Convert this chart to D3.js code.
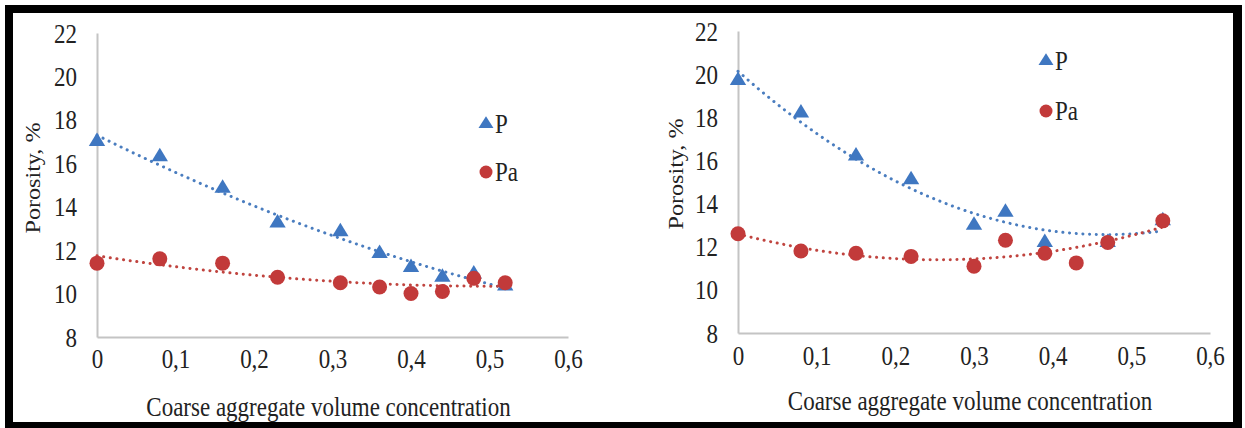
<!DOCTYPE html>
<html>
<head>
<meta charset="utf-8">
<script src="https://cdn.jsdelivr.net/npm/d3@7"></script>
<style>
html,body{margin:0;padding:0;background:#fff;}
svg{display:block;}
text{font-family:"Liberation Serif","Times New Roman",serif;fill:#222;}
</style>
</head>
<body>
<svg id="chart" width="1245" height="428"></svg>
<script>
// ---------- data ----------
const xTickValues = [0, 0.1, 0.2, 0.3, 0.4, 0.5, 0.6];
const xTickLabels = ["0", "0,1", "0,2", "0,3", "0,4", "0,5", "0,6"];
const yTickValues = [8, 10, 12, 14, 16, 18, 20, 22];
const yTickLabels = ["8", "10", "12", "14", "16", "18", "20", "22"];
const seriesNames = ["P", "Pa"];
const xTitle = "Coarse aggregate volume concentration";
const yTitle = "Porosity, %";

// left panel
const leftXP  = [0, 0.08, 0.16, 0.23, 0.31, 0.36, 0.40, 0.44, 0.48, 0.52];
const leftP   = [17.0, 16.3, 14.85, 13.25, 12.85, 11.85, 11.2, 10.75, 10.9, 10.35];
const leftXPa = [0, 0.08, 0.16, 0.23, 0.31, 0.36, 0.40, 0.44, 0.48, 0.52];
const leftPa  = [11.4, 11.6, 11.4, 10.75, 10.5, 10.3, 10.0, 10.1, 10.7, 10.5];

// right panel
const rightXP  = [0, 0.08, 0.15, 0.22, 0.30, 0.34, 0.39, 0.47, 0.54];
const rightP   = [19.7, 18.2, 16.2, 15.1, 13.0, 13.6, 12.2, 12.2, 13.2];
const rightXPa = [0, 0.08, 0.15, 0.22, 0.30, 0.34, 0.39, 0.43, 0.47, 0.54];
const rightPa  = [12.6, 11.8, 11.7, 11.55, 11.1, 12.3, 11.7, 11.25, 12.2, 13.2];

// ---------- style ----------
const blue = "#3f77c1", red = "#c23a3a";
const blueLine = "#4a7dbf", redLine = "#c0443f";
const axisColor = "#c4c4c4";
const FONT = '"Liberation Serif", "Times New Roman", serif';
const SY = 1.15; // vertical stretch of glyphs seen in the picture

const svg = d3.select("#chart");

// frame
svg.append("rect").attr("x", 5).attr("y", 5).attr("width", 1237).attr("height", 423).attr("fill", "#000");
svg.append("rect").attr("x", 13).attr("y", 13).attr("width", 1220).attr("height", 409).attr("fill", "#fff");

// quadratic least squares fit (Excel polynomial trendline, order 2)
function quadFit(xs, ys) {
  let s = [0,0,0,0,0], t = [0,0,0];
  xs.forEach((x, i) => {
    const y = ys[i];
    for (let k = 0; k < 5; k++) s[k] += Math.pow(x, k);
    for (let k = 0; k < 3; k++) t[k] += Math.pow(x, k) * y;
  });
  const A = [[s[0], s[1], s[2], t[0]], [s[1], s[2], s[3], t[1]], [s[2], s[3], s[4], t[2]]];
  for (let c = 0; c < 3; c++) {
    let p = c;
    for (let r = c + 1; r < 3; r++) if (Math.abs(A[r][c]) > Math.abs(A[p][c])) p = r;
    [A[c], A[p]] = [A[p], A[c]];
    for (let r = 0; r < 3; r++) if (r !== c) {
      const f = A[r][c] / A[c][c];
      for (let k = c; k < 4; k++) A[r][k] -= f * A[c][k];
    }
  }
  const a = A[0][3] / A[0][0], b = A[1][3] / A[1][1], cc = A[2][3] / A[2][2];
  return x => a + b * x + cc * x * x;
}

function panel(cfg) {
  const g = svg.append("g");
  const x = d3.scaleLinear().domain([0, 0.6]).range([cfg.x0, cfg.x1]);
  const y = d3.scaleLinear().domain([8, 22]).range([cfg.y0, cfg.y1]);

  const yAxis = d3.axisLeft(y).tickValues(yTickValues).tickSize(0).tickPadding(20)
    .tickFormat((d, i) => yTickLabels[i]);
  const ya = g.append("g").attr("transform", `translate(${cfg.x0},0)`).call(yAxis);
  ya.attr("font-family", null);
  ya.select(".domain").attr("stroke", axisColor).attr("stroke-width", 2);
  ya.selectAll("text").attr("font-size", 23).attr("fill", "#222").style("font-family", FONT)
    .attr("dy", null).attr("dominant-baseline", "central")
    .attr("transform", function() {
      const xx = +d3.select(this).attr("x");
      d3.select(this).attr("x", 0);
      return `translate(${xx},0) scale(1,${SY})`;
    });

  const xAxis = d3.axisBottom(x).tickValues(xTickValues).tickSize(0).tickPadding(0)
    .tickFormat((d, i) => xTickLabels[i]);
  const xa = g.append("g").attr("transform", `translate(0,${cfg.y0})`).call(xAxis);
  xa.attr("font-family", null);
  xa.select(".domain").attr("stroke", axisColor).attr("stroke-width", 2);
  xa.selectAll("text").attr("font-size", 23).attr("fill", "#222").style("font-family", FONT)
    .attr("y", 0).attr("dy", null).attr("dominant-baseline", "central")
    .attr("transform", `translate(0,${cfg.xLabY - cfg.y0}) scale(1,${SY})`);

  // titles
  g.append("text").text(xTitle).attr("text-anchor", "middle").attr("dominant-baseline", "central")
    .attr("font-size", 23).style("font-family", FONT)
    .attr("transform", `translate(${(cfg.x0 + cfg.x1) / 2 - 4},${cfg.xTitleY}) scale(1,${SY})`);
  g.append("text").text(yTitle).attr("text-anchor", "middle").attr("dominant-baseline", "central")
    .attr("font-size", 21).style("font-family", FONT)
    .attr("transform", `translate(${cfg.yTitleX},${cfg.yTitleY}) rotate(-90) scale(${SY},1)`);

  // trendlines
  const line = d3.line().x(d => x(d[0])).y(d => y(d[1]));
  [[cfg.xp, cfg.p, blueLine], [cfg.xpa, cfg.pa, redLine]].forEach(([xs, ys, col]) => {
    const f = quadFit(xs, ys);
    const xmax = d3.max(xs);
    const pts = d3.range(0, 101).map(i => { const xv = xmax * i / 100; return [xv, f(xv)]; });
    g.append("path").attr("d", line(pts)).attr("fill", "none").attr("stroke", col)
      .attr("stroke-width", 3).attr("stroke-linecap", "round").attr("stroke-dasharray", "0.1 6.6");
  });

  // markers
  const tri = d3.symbol().type(d3.symbolTriangle).size(105);
  g.selectAll(".tri").data(cfg.xp.map((xv, i) => [xv, cfg.p[i]])).enter().append("path")
    .attr("d", tri).attr("fill", blue)
    .attr("transform", d => `translate(${x(d[0])},${y(d[1])}) scale(1.05,1)`);
  g.selectAll(".dot").data(cfg.xpa.map((xv, i) => [xv, cfg.pa[i]])).enter().append("circle")
    .attr("cx", d => x(d[0])).attr("cy", d => y(d[1])).attr("r", 7.5).attr("fill", red);

  // legend
  const triL = d3.symbol().type(d3.symbolTriangle).size(80);
  g.append("path").attr("d", triL).attr("fill", blue)
    .attr("transform", `translate(${cfg.legX},${cfg.legY1}) scale(1.1,1)`);
  g.append("text").text(seriesNames[0]).attr("font-size", 23).attr("dominant-baseline", "central")
    .style("font-family", FONT)
    .attr("transform", `translate(${cfg.legX + 9},${cfg.legY1}) scale(1,${SY})`);
  g.append("circle").attr("cx", cfg.legX).attr("cy", cfg.legY2).attr("r", 6.5).attr("fill", red);
  g.append("text").text(seriesNames[1]).attr("font-size", 23).attr("dominant-baseline", "central")
    .style("font-family", FONT)
    .attr("transform", `translate(${cfg.legX + 9},${cfg.legY2}) scale(1,${SY})`);
}

panel({x0: 97, x1: 568, y0: 337, y1: 33, xLabY: 359, xTitleY: 407, yTitleX: 33, yTitleY: 178,
  xp: leftXP, p: leftP, xpa: leftXPa, pa: leftPa, legX: 486, legY1: 124, legY2: 172});
panel({x0: 738, x1: 1210, y0: 333, y1: 31, xLabY: 356, xTitleY: 401, yTitleX: 676, yTitleY: 174,
  xp: rightXP, p: rightP, xpa: rightXPa, pa: rightPa, legX: 1046, legY1: 61, legY2: 111});
</script>
</body>
</html>
